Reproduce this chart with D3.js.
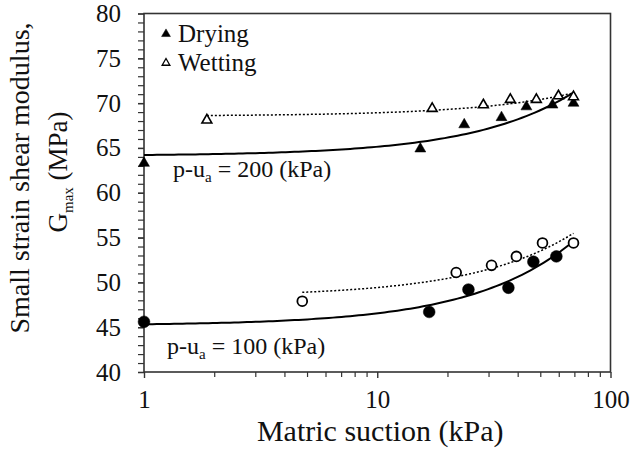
<!DOCTYPE html>
<html lang="en">
<head>
    <meta charset="utf-8">
    <title>Gmax vs matric suction</title>
    <style>
        body { margin: 0; background: #fff; }
        svg text { font-family: "Liberation Serif", "Times New Roman", serif !important; fill: #111; }
    </style>
</head>
<body>
<script src="https://cdn.jsdelivr.net/npm/d3@7/dist/d3.min.js"></script>
<script>
    // values
    const dry200X = [1, 15.3, 23.6, 34.1, 43.6, 56.4, 69.4];
    const dry200Y = [63.3, 64.9, 67.6, 68.4, 69.6, 69.8, 70.0];
    const wet200X = [1.86, 17.2, 28.5, 37.2, 48.1, 59.8, 69.4];
    const wet200Y = [68.1, 69.4, 69.8, 70.4, 70.4, 70.8, 70.7];
    const dry100X = [1, 16.7, 24.6, 36.5, 46.7, 58.6];
    const dry100Y = [45.6, 46.7, 49.2, 49.4, 52.3, 52.9];
    const wet100X = [4.77, 21.8, 30.9, 39.5, 51.1, 69.4];
    const wet100Y = [47.9, 51.1, 51.9, 52.9, 54.4, 54.4];

    const yTicks = [40, 45, 50, 55, 60, 65, 70, 75, 80];
    const xTicks = [1, 10, 100];
    const legendLabels = ["Drying", "Wetting"];
    const pressureLabels = ["200", "100"];

    const width = 631, height = 454;
    const margin = {top: 13.5, right: 20.5, bottom: 82, left: 144};

    const svg = d3.select("body").append("svg")
        .attr("width", width)
        .attr("height", height);

    const x = d3.scaleLog().domain([1, 100]).range([margin.left, width - margin.right]);
    const y = d3.scaleLinear().domain([40, 80]).range([height - margin.bottom, margin.top]);

    // minor ticks
    const xMinor = [];
    for (let dec of [1, 10]) for (let k = 2; k <= 9; k++) xMinor.push(dec * k);
    const yMinor = d3.range(40, 81, 1);

    svg.append("g")
        .attr("transform", `translate(0,${y(40)})`)
        .call(d3.axisBottom(x).tickValues(xMinor).tickSize(5).tickFormat(""))
        .call(g => g.select(".domain").remove())
        .call(g => g.selectAll("line").attr("stroke", "#333").attr("stroke-width", 1.2));

    svg.append("g")
        .attr("transform", `translate(0,${y(40)})`)
        .call(d3.axisBottom(x).tickValues(xTicks).tickSize(6).tickPadding(12).tickFormat(d3.format("d")))
        .call(g => g.select(".domain").remove())
        .call(g => g.selectAll("line").attr("stroke", "#333").attr("stroke-width", 1.4))
        .call(g => g.selectAll("text").attr("font-size", 25));

    svg.append("g")
        .attr("transform", `translate(${x(1)},0)`)
        .call(d3.axisLeft(y).tickValues(yMinor).tickSize(6).tickFormat(""))
        .call(g => g.select(".domain").remove())
        .call(g => g.selectAll("line").attr("stroke", "#333").attr("stroke-width", 1.2));

    svg.append("g")
        .attr("transform", `translate(${x(1)},0)`)
        .call(d3.axisLeft(y).tickValues(yTicks).tickSize(6).tickPadding(17))
        .call(g => g.select(".domain").remove())
        .call(g => g.selectAll("line").attr("stroke", "#333").attr("stroke-width", 1.4))
        .call(g => g.selectAll("text").attr("font-size", 25));

    // frame
    svg.append("rect")
        .attr("x", x(1)).attr("y", y(80))
        .attr("width", x(100) - x(1)).attr("height", y(40) - y(80))
        .attr("fill", "none").attr("stroke", "#333").attr("stroke-width", 1.6);

    // least-squares linear trend (drawn on the log axis, so it bends)
    function fit(xs, ys) {
        const mx = d3.mean(xs), my = d3.mean(ys);
        let sxy = 0, sxx = 0;
        xs.forEach((v, i) => { sxy += (v - mx) * (ys[i] - my); sxx += (v - mx) ** 2; });
        const b = sxy / sxx;
        return {a: my - b * mx, b};
    }

    function trend(xs, ys, xEnd, dash) {
        const f = fit(xs, ys);
        const x0 = d3.min(xs);
        const pts = d3.range(0, 101).map(i => {
            const s = x0 * Math.pow(xEnd / x0, i / 100);
            return [x(s), y(f.a + f.b * s)];
        });
        svg.append("path")
            .attr("d", d3.line()(pts))
            .attr("fill", "none")
            .attr("stroke", "#000")
            .attr("stroke-width", dash ? 1.5 : 2)
            .attr("stroke-dasharray", dash ? "2,2" : null);
    }

    const end200 = d3.max(dry200X.concat(wet200X));
    const end100 = d3.max(dry100X.concat(wet100X));
    trend(dry200X, dry200Y, end200, false);
    trend(wet200X, wet200Y, end200, true);
    trend(dry100X, dry100Y, end100, false);
    trend(wet100X, wet100Y, end100, true);

    const tri = d3.symbol().type(d3.symbolTriangle);

    function triangles(xs, ys, filled) {
        svg.append("g").selectAll("path")
            .data(xs.map((v, i) => [v, ys[i]]))
            .join("path")
            .attr("transform", d => `translate(${x(d[0])},${y(d[1])})`)
            .attr("d", tri.size(filled ? 52 : 42)())
            .attr("fill", filled ? "#000" : "#fff")
            .attr("stroke", "#000")
            .attr("stroke-width", filled ? 0.5 : 1.6);
    }

    function circles(xs, ys, filled) {
        svg.append("g").selectAll("circle")
            .data(xs.map((v, i) => [v, ys[i]]))
            .join("circle")
            .attr("cx", d => x(d[0]))
            .attr("cy", d => y(d[1]))
            .attr("r", filled ? 5.9 : 4.9)
            .attr("fill", filled ? "#000" : "#fff")
            .attr("stroke", "#000")
            .attr("stroke-width", filled ? 0.5 : 1.8);
    }

    triangles(dry200X, dry200Y, true);
    triangles(wet200X, wet200Y, false);
    circles(dry100X, dry100Y, true);
    circles(wet100X, wet100Y, false);

    // legend
    const legend = svg.append("g").attr("transform", "translate(166,0)");
    legendLabels.forEach((lab, i) => {
        const ly = 34 + i * 29;
        legend.append("path")
            .attr("transform", `translate(0,${ly})`)
            .attr("d", d3.symbol().type(d3.symbolTriangle).size(i ? 26 : 34)())
            .attr("fill", i ? "#fff" : "#000")
            .attr("stroke", "#000")
            .attr("stroke-width", i ? 1.3 : 0.5);
        legend.append("text")
            .attr("x", 12).attr("y", ly + 8)
            .attr("font-size", 25)
            .text(lab);
    });

    // pressure annotations
    const annY = [177, 354];
    const annX = [173, 167];
    pressureLabels.forEach((p, i) => {
        const t = svg.append("text")
            .attr("x", annX[i]).attr("y", annY[i])
            .attr("font-size", 24);
        t.append("tspan").text("p-u");
        t.append("tspan").attr("font-size", 15).attr("dy", 5).text("a");
        t.append("tspan").attr("dy", -5).text(` = ${p} (kPa)`);
    });

    // axis titles
    svg.append("text")
        .attr("x", (x(1) + x(100)) / 2 + 3)
        .attr("y", 441)
        .attr("text-anchor", "middle")
        .attr("font-size", 30)
        .text("Matric suction (kPa)");

    const yt = svg.append("g").attr("transform", "translate(29,178) rotate(-90)");
    yt.append("text")
        .attr("text-anchor", "middle")
        .attr("font-size", 28)
        .text("Small strain shear modulus,");
    const yt2 = yt.append("text")
        .attr("y", 38)
        .attr("x", 6)
        .attr("text-anchor", "middle")
        .attr("font-size", 27);
    yt2.append("tspan").text("G");
    yt2.append("tspan").attr("font-size", 15).attr("dy", 6).text("max");
    yt2.append("tspan").attr("dy", -6).text(" (MPa)");

    svg.selectAll("text").style("font-family", "'Liberation Serif', 'Times New Roman', serif");
</script>
</body>
</html>
